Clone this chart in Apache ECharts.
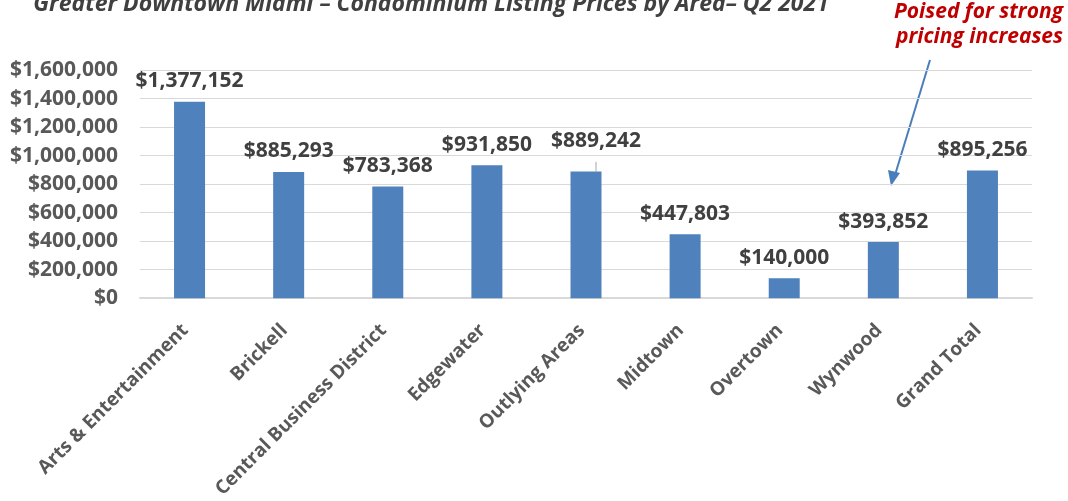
<!DOCTYPE html>
<html>
<head>
<meta charset="utf-8">
<script src="https://cdn.jsdelivr.net/npm/echarts@6/dist/echarts.min.js"></script>
<style>
  html, body { margin: 0; padding: 0; background: #fff; }
  #chart { width: 1068px; height: 501px; }
</style>
</head>
<body>
<div id="chart"></div>
<script>
// areas and average listing prices
const areas = ['Arts & Entertainment', 'Brickell', 'Central Business District', 'Edgewater',
  'Outlying Areas', 'Midtown', 'Overtown', 'Wynwood', 'Grand Total']
const prices = [1377152, 885293, 783368, 931850, 889242, 447803, 140000, 393852, 895256]

const titleText = 'Greater Downtown Miami \u2013 Condominium Listing Prices by Area\u2013 Q2 2021'
const noteText = 'Poised for strong\npricing increases'

const fmt = v => '$' + v.toLocaleString('en-US')

const chart = echarts.init(document.getElementById('chart'))
chart.setOption({
  animation: false,
  textStyle: { fontFamily: 'Open Sans' },
  title: {
    text: titleText,
    left: 426,
    textAlign: 'center',
    top: -12,
    textStyle: {
      fontSize: 23,
      fontStyle: 'italic',
      fontWeight: 'bold',
      color: '#404040'
    }
  },
  grid: {
    left: 140,
    right: 36,
    top: 70,
    bottom: 202
  },
  xAxis: {
    type: 'category',
    data: areas,
    axisLine: { lineStyle: { color: '#d9d9d9', width: 2 } },
    axisTick: { show: false },
    axisLabel: {
      interval: 0,
      rotate: 45,
      margin: 25,
      padding: [0, 6, 0, 0],
      color: '#595959',
      fontSize: 19,
      fontWeight: 'bold'
    }
  },
  yAxis: {
    type: 'value',
    min: 0,
    max: 1600000,
    interval: 200000,
    axisLine: { show: false },
    axisTick: { show: false },
    splitLine: { lineStyle: { color: '#d9d9d9', width: 1 } },
    axisLabel: {
      margin: 22,
      color: '#595959',
      fontSize: 21,
      fontWeight: 'bold',
      formatter: fmt
    }
  },
  series: [
    {
      type: 'bar',
      data: prices.map((v, i) => {
        if (i === 4) {
          return {
            value: v,
            label: { offset: [10, -10] },
            labelLine: { show: true, lineStyle: { color: '#a6a6a6', width: 1 } }
          }
        }
        return v
      }),
      barWidth: 31,
      itemStyle: { color: '#4f81bd' },
      label: {
        show: true,
        position: 'top',
        distance: 10,
        color: '#404040',
        fontSize: 21,
        fontWeight: 'bold',
        formatter: p => fmt(p.value)
      }
    }
  ],
  graphic: [
    {
      type: 'text',
      right: 5,
      top: 0,
      style: {
        text: noteText,
        fill: '#c00000',
        font: 'italic bold 21px "Open Sans"',
        textAlign: 'right',
        lineHeight: 25
      }
    },
    {
      type: 'line',
      shape: { x1: 930, y1: 60, x2: 895, y2: 175 },
      style: { stroke: '#4a7ebb', lineWidth: 2 }
    },
    {
      type: 'polygon',
      shape: { points: [[891, 186], [888, 170], [900, 173]] },
      style: { fill: '#4a7ebb' }
    }
  ]
})
</script>
</body>
</html>
